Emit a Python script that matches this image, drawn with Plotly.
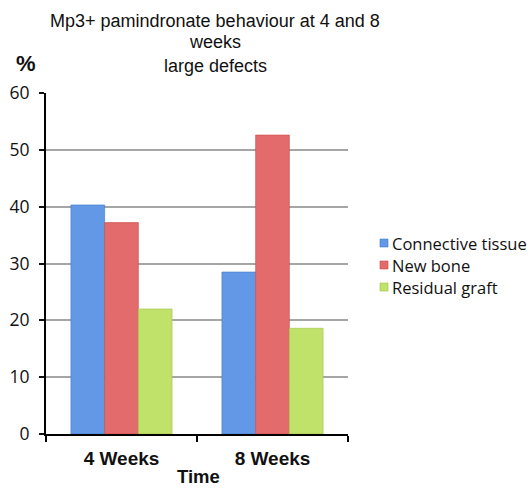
import plotly.graph_objects as go

# Data
timepoints = ["4 Weeks", "8 Weeks"]
connective_tissue = [40.3, 28.5]
new_bone = [37.2, 52.6]
residual_graft = [22.0, 18.6]
y_ticks = [0, 10, 20, 30, 40, 50, 60]

series = [
    ("Connective tissue", connective_tissue, "#6398e6", "#3f78cc"),
    ("New bone", new_bone, "#e46b6b", "#c94848"),
    ("Residual graft", residual_graft, "#c0e16a", "#9fc548"),
]

fig = go.Figure()
for name, vals, fill, edge in series:
    fig.add_trace(go.Bar(
        x=timepoints, y=vals, name=name,
        marker=dict(color=fill, line=dict(color=edge, width=0.6)),
    ))

W, H = 532, 489
ml, mr, mt, mb = 46, 184, 93, 55
pw, ph = W - ml - mr, H - mt - mb

def px(x):
    return (x - ml) / pw

def py(y):
    return (H - mb - y) / ph

arial = "Liberation Sans, Arial, sans-serif"
title_font = dict(family=arial, size=18, color="#111111")
annotations = [
    dict(text="Mp3+ pamindronate behaviour at 4 and 8", x=px(215), y=py(21)),
    dict(text="weeks", x=px(215), y=py(42)),
    dict(text="large defects", x=px(215), y=py(66)),
]
annotations = [dict(a, xref="paper", yref="paper", showarrow=False,
                    xanchor="center", yanchor="middle", font=title_font)
               for a in annotations]
annotations.append(dict(text="<b>%</b>", x=px(26), y=py(63), xref="paper", yref="paper",
                        showarrow=False, xanchor="center", yanchor="middle",
                        font=dict(family=arial, size=22, color="#111111")))
annotations.append(dict(text="<b>Time</b>", x=px(198), y=py(477), xref="paper", yref="paper",
                        showarrow=False, xanchor="center", yanchor="middle",
                        font=dict(family=arial, size=18.5, color="#111111")))

# Legend: small square swatches with labels to their right
shapes = []
legend_rows = [243, 265, 287]
for (name, _, fill, edge), row in zip(series, legend_rows):
    shapes.append(dict(type="rect", xref="paper", yref="paper",
                       x0=px(380), x1=px(388), y0=py(row + 4), y1=py(row - 4),
                       fillcolor=fill, line=dict(color=edge, width=0.6)))
    annotations.append(dict(text=name, x=px(390), y=py(row), xref="paper", yref="paper",
                            showarrow=False, xanchor="left", yanchor="middle",
                            font=dict(family="Open Sans, sans-serif", size=16.5, color="#111111")))

fig.update_layout(
    width=W, height=H,
    margin=dict(l=ml, r=mr, t=mt, b=mb, pad=0, autoexpand=False),
    paper_bgcolor="white", plot_bgcolor="white",
    barmode="group", bargap=0.33, bargroupgap=0,
    showlegend=False,
    annotations=annotations,
    shapes=shapes,
    xaxis=dict(
        showline=True, linecolor="black", linewidth=2,
        ticks="outside", tickson="boundaries", ticklen=6, tickwidth=2, tickcolor="black",
        tickfont=dict(family=arial, size=19, color="#111111", weight="bold"),
        ticklabelstandoff=6,
        showgrid=False, zeroline=False,
    ),
    yaxis=dict(
        range=[0, 60], tickvals=y_ticks,
        showline=True, linecolor="black", linewidth=2,
        ticks="outside", ticklen=5, tickwidth=1.5, tickcolor="#111111",
        tickfont=dict(family="Open Sans, sans-serif", size=17.5, color="#111111"),
        ticklabelstandoff=6,
        showgrid=True, gridcolor="#a6a6a6", gridwidth=1.5,
        zeroline=False,
    ),
)

fig.write_html("out.html")
